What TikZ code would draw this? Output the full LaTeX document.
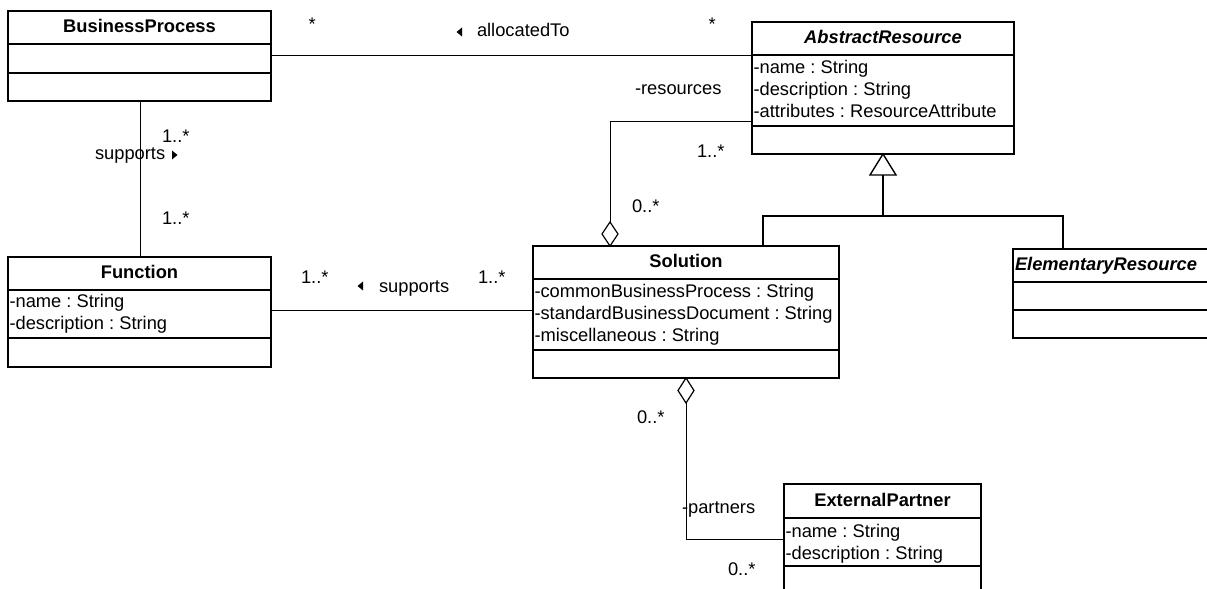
\documentclass[tikz,border=0pt]{standalone}
\usepackage{fontspec}
\setmainfont{Liberation Sans}
\frenchspacing
\begin{document}
\frenchspacing
\begin{tikzpicture}[x=1bp,y=-1bp,
  cls/.style={draw, line width=1.6bp, anchor=north west, inner sep=0pt, outer sep=0pt},
  sepl/.style={line width=1.6bp},
  conn/.style={line width=1bp},
  txt/.style={font=\fontsize{18.3bp}{22bp}\selectfont\frenchspacing, inner sep=0pt, outer sep=0pt},
  hdr/.style={txt, font=\fontsize{18.3bp}{22bp}\selectfont\bfseries, anchor=base},
  ihdr/.style={txt, font=\fontsize{18.3bp}{22bp}\selectfont\bfseries\itshape, anchor=base},
  attr/.style={txt, anchor=base west},
  lbl/.style={txt, anchor=base west},
  tri/.style={fill=black},
  diam/.style={draw, fill=white, line width=1.2bp},
  gen/.style={draw, fill=white, line width=1.4bp}
]
\useasboundingbox (0,0) rectangle (1207,589);
\clip (0,0) rectangle (1207,589);

% ---------- BusinessProcess ----------
\node[cls, minimum width=263bp, minimum height=90bp] (bp) at (8,11) {};
\draw[sepl] ([yshift=-33bp]bp.north west) -- ([yshift=-33bp]bp.north east);
\draw[sepl] ([yshift=-62bp]bp.north west) -- ([yshift=-62bp]bp.north east);
\node[hdr] (bph) at (139.5,33) {BusinessProcess};

% ---------- Function ----------
\node[cls, minimum width=263bp, minimum height=110bp] (fn) at (8,257) {};
\draw[sepl] ([yshift=-33bp]fn.north west) -- ([yshift=-33bp]fn.north east);
\draw[sepl] ([yshift=-81bp]fn.north west) -- ([yshift=-81bp]fn.north east);
\node[hdr] (fnh) at (139.5,279) {Function};
\node[attr] (fn1) at (9.5,308) {-name : String};
\node[attr] (fn2) at (9.5,330) {-description : String};

% ---------- AbstractResource ----------
\node[cls, minimum width=262bp, minimum height=132bp] (ar) at (752,22) {};
\draw[sepl] ([yshift=-33bp]ar.north west) -- ([yshift=-33bp]ar.north east);
\draw[sepl] ([yshift=-104bp]ar.north west) -- ([yshift=-104bp]ar.north east);
\node[ihdr] (arh) at (883,44) {AbstractResource};
\node[attr] (ar1) at (753.5,74) {-name : String};
\node[attr] (ar2) at (753.5,96) {-description : String};
\node[attr] (ar3) at (753.5,118) {-attributes : ResourceAttribute};

% ---------- Solution ----------
\node[cls, minimum width=306bp, minimum height=132bp] (sol) at (533,246) {};
\draw[sepl] ([yshift=-33bp]sol.north west) -- ([yshift=-33bp]sol.north east);
\draw[sepl] ([yshift=-104bp]sol.north west) -- ([yshift=-104bp]sol.north east);
\node[hdr] (solh) at (686,268) {Solution};
\node[attr] (sol1) at (534.5,298) {-commonBusinessProcess : String};
\node[attr] (sol2) at (534.5,320) {-standardBusinessDocument : String};
\node[attr] (sol3) at (534.5,342) {-miscellaneous : String};

% ---------- ElementaryResource ----------
\node[cls, minimum width=200bp, minimum height=89bp] (er) at (1013,249) {};
\draw[sepl] ([yshift=-33bp]er.north west) -- ([yshift=-33bp]er.north east);
\draw[sepl] ([yshift=-61bp]er.north west) -- ([yshift=-61bp]er.north east);
\node[ihdr, anchor=base west] (erh) at (1015,271) {ElementaryResource};

% ---------- ExternalPartner ----------
\node[cls, minimum width=197bp, minimum height=115bp] (ep) at (784,484) {};
\draw[sepl] ([yshift=-34bp]ep.north west) -- ([yshift=-34bp]ep.north east);
\draw[sepl] ([yshift=-82bp]ep.north west) -- ([yshift=-82bp]ep.north east);
\node[hdr] (eph) at (882.5,506) {ExternalPartner};
\node[attr] (ep1) at (785.5,537) {-name : String};
\node[attr] (ep2) at (785.5,559) {-description : String};

% ---------- allocatedTo ----------
\draw[conn] ([yshift=-45bp]bp.north east) -- ([yshift=-45bp]bp.north east -| ar.west);
\node[lbl] (a1) at (308.5,31) {*};
\node[lbl] (a2) at (708.5,31) {*};
\node[lbl] (a3) at (477,37) {allocatedTo};
\fill[tri] (462,27.5) -- (462,36.5) -- (456.5,32) -- cycle;

% ---------- BP supports Function ----------
\draw[conn] (bp.south -| 140,0) -- (fn.north -| 140,0);
\node[lbl] (b1) at (162,143) {1..*};
\node[lbl] (b2) at (95,160) {supports};
\fill[tri] (172,150.5) -- (172,159.5) -- (177.5,155) -- cycle;
\node[lbl] (b3) at (162,225) {1..*};

% ---------- Function supports Solution ----------
\draw[conn] (fn.east |- 0,311) -- (sol.west |- 0,311);
\node[lbl] (c1) at (301,284) {1..*};
\node[lbl] (c2) at (379,293) {supports};
\fill[tri] (363,281.5) -- (363,290.5) -- (357.5,286) -- cycle;
\node[lbl] (c3) at (478,284) {1..*};

% ---------- resources aggregation ----------
\coordinate (rd) at (610,246);
\draw[diam] (rd) -- ++(-8,-12) -- ++(8,-12) -- ++(8,12) -- cycle;
\coordinate (rdt) at (610,222);
\draw[conn] (rdt) |- (ar.west |- 0,122);
\node[lbl] (r1) at (635,95) {-resources};
\node[lbl] (r2) at (697,158) {1..*};
\node[lbl] (r3) at (632,213) {0..*};

% ---------- generalization ----------
\draw[gen] (883,154) -- (870,175) -- (896,175) -- cycle;
\coordinate (gb) at (883,175);
\coordinate (gj) at (883,216);
\draw[conn, line width=1.2bp] (gb) -- (gj);
\draw[conn, line width=1.2bp] (sol.north -| 763,0) |- (gj) -| (er.north -| 1063,0);

% ---------- partners aggregation ----------
\coordinate (pd) at (686,378);
\draw[diam] (pd) -- ++(-8,12.5) -- ++(8,12.5) -- ++(8,-12.5) -- cycle;
\coordinate (pdb) at (686,403);
\draw[conn] (pdb) |- (ep.west |- 0,539);
\node[lbl] (p1) at (637,423) {0..*};
\node[lbl] (p2) at (682,513) {-partners};
\node[lbl] (p3) at (728,575) {0..*};
\end{tikzpicture}
\end{document}
